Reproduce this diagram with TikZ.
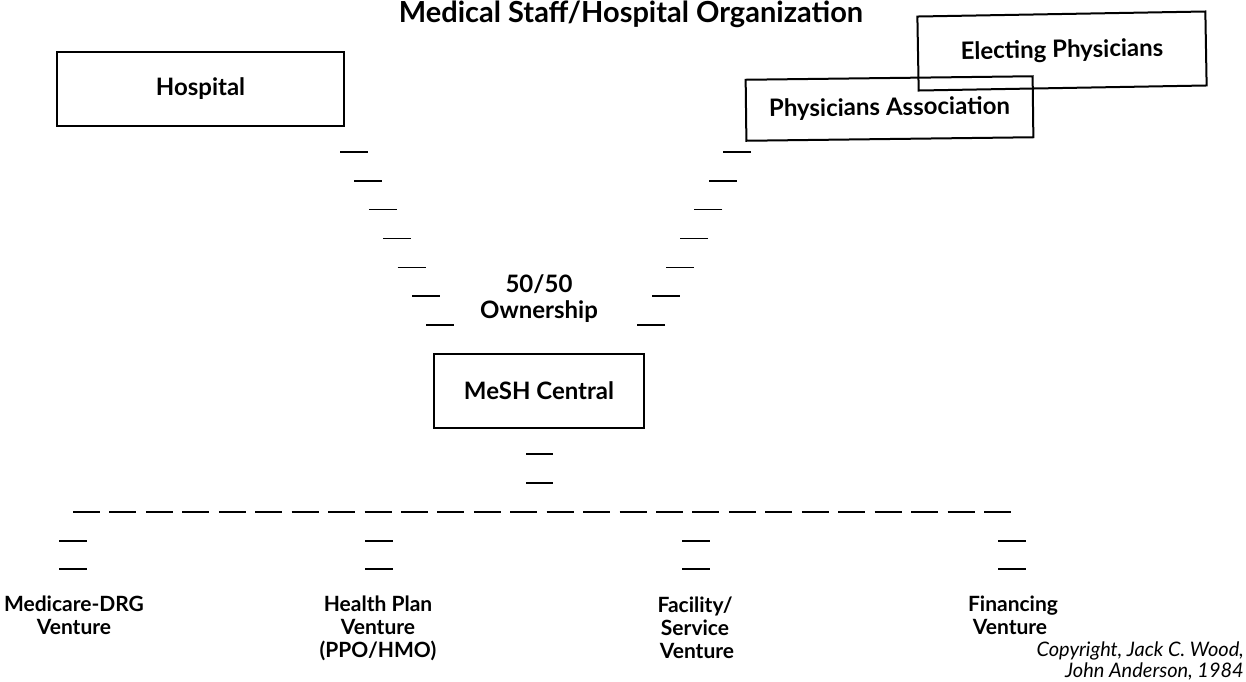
\documentclass[tikz,border=0pt]{standalone}
\usepackage{fontspec}
\setmainfont{Lato}
\begin{document}
\begin{tikzpicture}[x=1pt,y=-1pt,
  box/.style={draw=black, line width=2pt, inner sep=0pt, font=\fontsize{24}{28}\selectfont\bfseries},
  lbl/.style={anchor=base, inner sep=0pt, font=\fontsize{21}{24}\selectfont\bfseries},
  mid/.style={anchor=base, inner sep=0pt, font=\fontsize{24}{28}\selectfont\bfseries},
  ttl/.style={anchor=base, inner sep=0pt, font=\fontsize{29}{32}\selectfont\bfseries},
  copy/.style={anchor=base east, inner sep=0pt, font=\fontsize{20}{24}\selectfont\itshape},
  dsh/.style={line width=1.4pt}]
\useasboundingbox (0,0) rectangle (1246,681);
% title
\node[ttl] (title) at (631,22) {Medical Staff/Hospital Organization};
% boxes
\node[box, minimum width=287pt, minimum height=74pt] (hosp) at (200.5,89) {Hospital};
\node[box, minimum width=288pt, minimum height=74pt, rotate=1.0] (elect) at (1062,51) {Electing Physicians};
\node[box, minimum width=287pt, minimum height=61pt, rotate=0.7] (assoc) at (889.5,108.5) {Physicians Association};
\node[box, minimum width=210pt, minimum height=74pt] (mesh) at (539,391) {MeSH Central};
% 50/50 label
\node[mid] (own1) at (539,292) {50/50};
\node[mid] (own2) at (539,318) {Ownership};
% staggered dashes from Hospital and Physicians Association
\foreach \i in {0,...,6} {
  \draw[dsh] ({340+14.4*\i},{152+28.8*\i}) -- ++(28,0);
  \draw[dsh] ({751-14.3*\i},{152+28.8*\i}) -- ++(-28,0);
}
% below MeSH Central
\draw[dsh] (526,454) -- (553,454);
\draw[dsh] (526,483) -- (553,483);
% horizontal dashed bar
\coordinate (barL) at (73,512);
\coordinate (barR) at (1011,512);
\draw[dsh, dash pattern=on 27pt off 9.44pt] (barL) -- (barR);
% drops to ventures
\foreach \x in {73,379,696,1012} {
  \draw[dsh] ({\x-14},541) -- ++(28,0);
  \draw[dsh] ({\x-14},569) -- ++(28,0);
}
% venture labels
\node[lbl] (v1a) at (74,611) {Medicare-DRG};
\node[lbl] (v1b) at (74,634) {Venture};
\node[lbl] (v2a) at (378,611) {Health Plan};
\node[lbl] (v2b) at (378,634) {Venture};
\node[lbl] (v2c) at (378,657) {(PPO/HMO)};
\node[lbl] (v3a) at (695,612) {Facility/};
\node[lbl] (v3b) at (695,635) {Service};
\node[lbl] (v3c) at (697,658) {Venture};
\node[lbl] (v4a) at (1013,611) {Financing};
\node[lbl] (v4b) at (1010,634) {Venture};
% copyright
\node[copy] (c1) at (1244,656) {Copyright, Jack C. Wood,};
\node[copy] (c2) at (1244,677) {John Anderson, 1984};
\end{tikzpicture}
\end{document}
